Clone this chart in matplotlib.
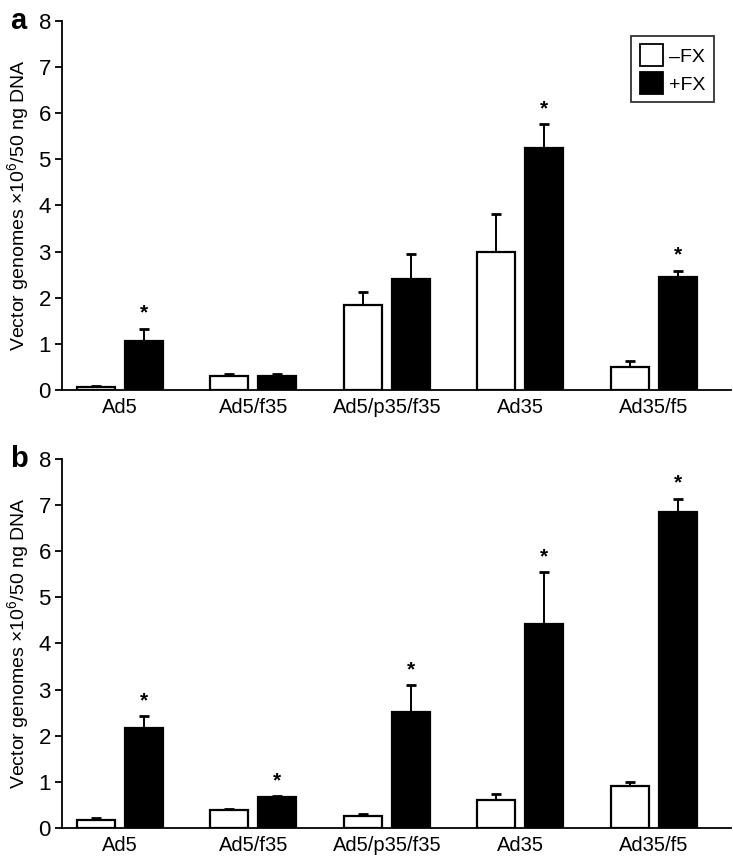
import numpy as np
import matplotlib
matplotlib.use("Agg")
import matplotlib.pyplot as plt
from matplotlib.patches import Patch

plt.rcParams["font.family"] = ["Liberation Sans", "DejaVu Sans"]
plt.rcParams["mathtext.fontset"] = "custom"
plt.rcParams["mathtext.rm"] = "Liberation Sans"
plt.rcParams["mathtext.it"] = "Liberation Sans"

categories = ["Ad5", "Ad5/f35", "Ad5/p35/f35", "Ad35", "Ad35/f5"]

# panel a
a_minus = [0.06, 0.30, 1.84, 2.99, 0.50]
a_minus_err = [0.02, 0.05, 0.28, 0.83, 0.12]
a_plus = [1.07, 0.31, 2.41, 5.24, 2.46]
a_plus_err = [0.26, 0.04, 0.54, 0.52, 0.13]
a_sig = [True, False, False, True, True]

# panel b
b_minus = [0.17, 0.38, 0.27, 0.60, 0.91]
b_minus_err = [0.05, 0.04, 0.03, 0.14, 0.09]
b_plus = [2.16, 0.67, 2.52, 4.43, 6.85]
b_plus_err = [0.27, 0.02, 0.58, 1.12, 0.29]
b_sig = [True, True, True, True, True]

ylabel = "Vector genomes \u00d710$^{6}$/50 ng DNA"

fig = plt.figure(figsize=(7.33, 8.56), dpi=100)
ax_a = fig.add_axes([0.0846, 0.5444, 0.9127, 0.4311])
ax_b = fig.add_axes([0.0846, 0.0327, 0.9127, 0.4311])

x = np.arange(len(categories))
w = 0.285
off = 0.18


def panel(ax, minus, minus_err, plus, plus_err, sig, letter, legend=False):
    ax.bar(x - off, minus, w, color="white", edgecolor="black", linewidth=1.6, zorder=3)
    ax.bar(x + off, plus, w, color="black", edgecolor="black", linewidth=1.6, zorder=3)
    ax.errorbar(x - off, minus, yerr=[np.zeros(len(x)), minus_err], fmt="none",
                ecolor="black", elinewidth=1.4, capsize=3.5, capthick=2, zorder=2)
    ax.errorbar(x + off, plus, yerr=[np.zeros(len(x)), plus_err], fmt="none",
                ecolor="black", elinewidth=1.4, capsize=3.5, capthick=2, zorder=2)
    for xi, yi, ei, s in zip(x, plus, plus_err, sig):
        if s:
            ax.text(xi + off, yi + ei + 0.13, "*", ha="center", va="bottom",
                    fontsize=15, fontweight="bold")
    ax.set_xlim(-0.435, 4.58)
    ax.set_ylim(0, 8)
    ax.set_yticks(range(0, 9))
    ax.set_xticks(x)
    ax.set_xticklabels(categories, fontsize=14.5)
    ax.tick_params(axis="x", length=0, pad=6)
    ax.tick_params(axis="y", labelsize=16, length=5, width=1.3, direction="out", pad=3)
    for sp in ["top", "right"]:
        ax.spines[sp].set_visible(False)
    for sp in ["left", "bottom"]:
        ax.spines[sp].set_linewidth(1.3)
    ax.set_ylabel(ylabel, fontsize=14, labelpad=5)
    ax.text(-0.078, 1.0, letter, transform=ax.transAxes, fontsize=21,
            fontweight="bold", ha="left", va="center")
    if legend:
        handles = [Patch(facecolor="white", edgecolor="black", linewidth=1.3, label="\u2013FX"),
                   Patch(facecolor="black", edgecolor="black", linewidth=1.3, label="+FX")]
        leg = ax.legend(handles=handles, loc="upper right", bbox_to_anchor=(0.975, 0.96),
                        fontsize=14, frameon=True, fancybox=False, handlelength=1.2,
                        handleheight=1.3, handletextpad=0.3, borderpad=0.45,
                        labelspacing=0.35, borderaxespad=0)
        leg.get_frame().set_edgecolor("black")
        leg.get_frame().set_linewidth(1.3)


panel(ax_a, a_minus, a_minus_err, a_plus, a_plus_err, a_sig, "a", legend=True)
panel(ax_b, b_minus, b_minus_err, b_plus, b_plus_err, b_sig, "b")

fig.savefig("out.png", dpi=100)
